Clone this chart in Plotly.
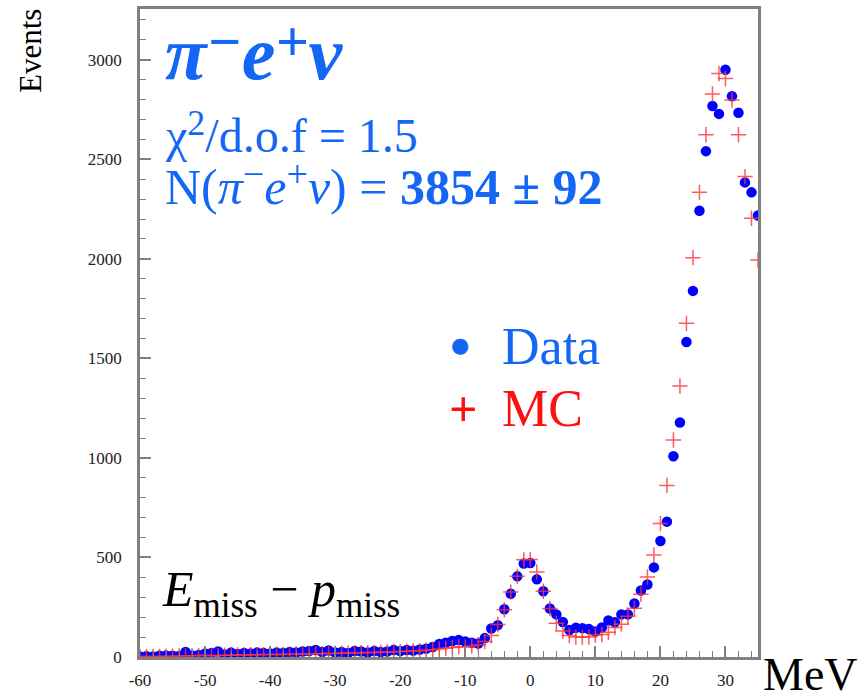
import plotly.graph_objects as go

# Bin centres (MeV)
bins = list(range(-60, 36))

data_counts = [
    3, 4, 3, 6, 8, 6, 5,
    25, 8, 10, 18, 20, 28, 12, 22, 15, 20,
    18, 22, 20, 18, 22, 20, 25, 22, 28, 30,
    35, 25, 33, 22, 25, 20, 30, 28, 22, 30,
    25, 28, 35, 30, 35, 32, 38, 42, 50, 65,
    72, 80, 85, 78, 72, 68, 95, 143, 160, 240,
    318, 405, 470, 472, 390, 330, 244, 214, 176, 135,
    147, 145, 141, 128, 148, 183, 174, 214, 214, 269,
    334, 364, 450, 583, 680, 1008, 1178, 1582, 1839, 2242,
    2541, 2768, 2728, 2950, 2817, 2734, 2384, 2334, 2218,
]

mc_counts = [
    2, 2, 3, 3, 4, 4, 5,
    6, 6, 7, 7, 8, 8, 9, 9, 10, 10,
    11, 11, 12, 12, 13, 13, 14, 14, 15, 16,
    16, 17, 17, 18, 19, 20, 20, 21, 22, 23,
    24, 25, 26, 27, 29, 30, 32, 34, 37, 40,
    44, 48, 52, 50, 55, 62, 78, 108, 163, 237,
    326, 405, 488, 490, 427, 330, 244, 170, 130, 108,
    100, 100, 100, 110, 113, 124, 148, 165, 205, 245,
    315, 402, 512, 670, 862, 1090, 1361, 1676, 2006, 2334,
    2623, 2828, 2931, 2906, 2798, 2623, 2413, 2204, 1994,
]

x_ticks = [-60, -50, -40, -30, -20, -10, 0, 10, 20, 30]
y_ticks = [0, 500, 1000, 1500, 2000, 2500, 3000]

BLUE_TXT = "#1466F5"
SERIF = "Liberation Serif"

fig = go.Figure()
fig.add_trace(go.Scatter(
    x=bins, y=data_counts, mode="markers", name="Data",
    marker=dict(symbol="circle", size=10.5, color="#0000FF", line=dict(width=0)),
))
fig.add_trace(go.Scatter(
    x=bins, y=mc_counts, mode="markers", name="MC",
    marker=dict(symbol="cross-thin", size=11, color="rgba(255,50,50,0.8)",
                line=dict(width=1.5, color="rgba(255,50,50,0.8)")),
))

axis_common = dict(
    showline=True, linecolor="#808080", linewidth=2.5, mirror=True,
    ticks="inside", tickcolor="#808080", tickwidth=1.5, ticklen=11,
    showgrid=False, zeroline=False,
    tickfont=dict(family=SERIF, size=17, color="#222222"),
)

fig.update_xaxes(
    range=[-60, 35], tickvals=x_ticks, ticktext=[str(v) for v in x_ticks],
    minor=dict(dtick=2, tick0=0, ticks="inside", ticklen=6, tickcolor="#808080", tickwidth=1.2),
    ticklabelstandoff=6,
    **axis_common,
)
fig.update_yaxes(
    range=[0, 3255], tickvals=y_ticks, ticktext=[str(v) for v in y_ticks],
    minor=dict(dtick=100, tick0=0, ticks="inside", ticklen=6, tickcolor="#808080", tickwidth=1.2),
    ticklabelstandoff=12,
    **axis_common,
)


def sup(ch, shift_px, glyph_px):
    # superscript whose vertical shift is set by the wrapper size and glyph size by the inner span
    return (f'<span style="font-size:{shift_px}px"><sup>'
            f'<span style="font-size:{glyph_px}px">{ch}</span></sup></span>')


annotations = [
    dict(text=f"<b><i>π{sup('−', 44, 58)}e{sup('+', 44, 58)}ν</i></b>",
         x=0.038, y=0.933,
         font=dict(family=SERIF, size=76, color=BLUE_TXT)),
    dict(text=f"χ{sup('2', 40, 36)}/d.o.f = 1.5", x=0.038, y=0.810,
         font=dict(family=SERIF, size=48, color=BLUE_TXT)),
    dict(text=f"N(<i>π</i>{sup('−', 40, 38)}<i>e</i>{sup('+', 40, 38)}<i>ν</i>) = <b>3854 ± 92</b>",
         x=0.038, y=0.730,
         font=dict(family=SERIF, size=50, color=BLUE_TXT)),
    dict(text="●", x=0.500, y=0.481,
         font=dict(family="DejaVu Sans", size=21, color=BLUE_TXT)),
    dict(text="Data", x=0.583, y=0.479,
         font=dict(family=SERIF, size=52, color=BLUE_TXT)),
    dict(text="<b>+</b>", x=0.497, y=0.383,
         font=dict(family=SERIF, size=50, color="#FF1010")),
    dict(text="MC", x=0.583, y=0.384,
         font=dict(family=SERIF, size=52, color="#FF1010")),
    dict(text="<i>E</i><sub>miss</sub> − <i>p</i><sub>miss</sub>", x=0.033, y=0.098,
         font=dict(family=SERIF, size=50, color="black")),
    dict(text="MeV", x=1.005, y=-0.027,
         font=dict(family=SERIF, size=46, color="black")),
]
for a in annotations:
    a.update(xref="paper", yref="paper", xanchor="left", yanchor="middle",
             showarrow=False)
    fig.add_annotation(**a)

fig.add_annotation(text="Events", xref="paper", yref="paper", x=-0.178, y=1.003,
                   xanchor="center", yanchor="top", textangle=-90, showarrow=False,
                   font=dict(family=SERIF, size=31, color="black"))

fig.update_layout(
    width=864, height=696,
    margin=dict(l=140, r=106, t=6, b=37),
    plot_bgcolor="white", paper_bgcolor="white",
    showlegend=False,
)

fig.write_html("out.html", config={"displayModeBar": False},
               post_script="document.body.style.margin='0px';")
